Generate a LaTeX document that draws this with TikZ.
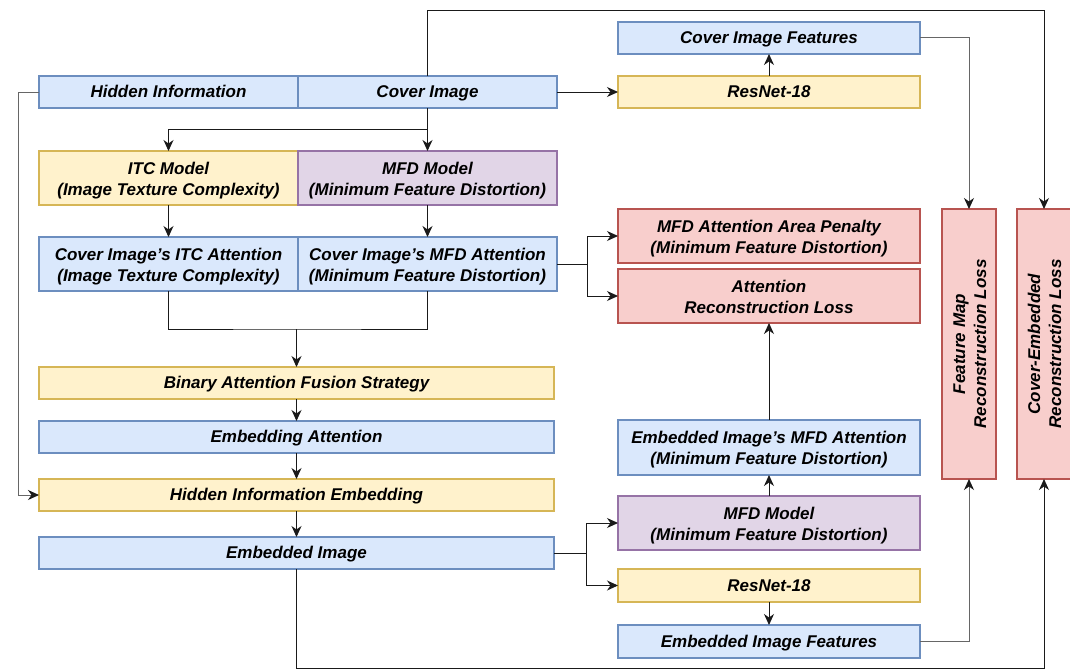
\documentclass[tikz,border=0pt]{standalone}
\usepackage{fontspec}
\setmainfont{Liberation Sans}
\usetikzlibrary{arrows.meta}
\definecolor{bfill}{HTML}{DAE8FC}\definecolor{bdraw}{HTML}{6C8EBF}
\definecolor{yfill}{HTML}{FFF2CC}\definecolor{ydraw}{HTML}{D6B656}
\definecolor{pfill}{HTML}{E1D5E7}\definecolor{pdraw}{HTML}{9673A6}
\definecolor{rfill}{HTML}{F8CECC}\definecolor{rdraw}{HTML}{B85450}
\definecolor{lineblack}{HTML}{1A1A1A}\definecolor{linegray}{HTML}{666666}
\tikzset{
  box/.style={rectangle, line width=1.2pt, inner sep=0pt, outer sep=0pt, align=center,
    font=\fontsize{17pt}{21pt}\selectfont\bfseries\itshape,
    text height=15.5pt, text depth=4pt},
  twoline/.style={text height=38pt, text depth=4pt},
  bluebox/.style={box, fill=bfill, draw=bdraw},
  yellowbox/.style={box, fill=yfill, draw=ydraw},
  purplebox/.style={box, fill=pfill, draw=pdraw},
  redbox/.style={box, fill=rfill, draw=rdraw},
  conn/.style={draw=lineblack, line width=1pt, -{Stealth[length=11pt,width=10pt,inset=3.5pt,color=lineblack]}},
  plain/.style={draw=lineblack, line width=1pt},
  grayconn/.style={conn, draw=linegray},
  vtext/.style={rotate=90, align=center, inner sep=0pt, font=\fontsize{17pt}{21pt}\selectfont\bfseries\itshape,
    twoline},
}
\begin{document}
\begin{tikzpicture}[x=1pt,y=-1pt]
\useasboundingbox (0,0) rectangle (1070,669);
% left column
\node[bluebox, minimum width=259pt, minimum height=32pt] (hid) at (168.5,92) {Hidden Information};
\node[bluebox, minimum width=259pt, minimum height=32pt] (cov) at (427.5,92) {Cover Image};
\node[yellowbox, twoline, minimum width=259pt, minimum height=54pt] (itc) at (168.5,178) {ITC Model\\(Image Texture Complexity)};
\node[purplebox, twoline, minimum width=259pt, minimum height=54pt] (mfd) at (427.5,178) {MFD Model\\(Minimum Feature Distortion)};
\node[bluebox, twoline, minimum width=259pt, minimum height=54pt] (itca) at (168.5,264) {Cover Image's ITC Attention\\(Image Texture Complexity)};
\node[bluebox, twoline, minimum width=259pt, minimum height=54pt] (mfda) at (427.5,264) {Cover Image's MFD Attention\\(Minimum Feature Distortion)};
\node[yellowbox, minimum width=515pt, minimum height=32pt] (bafs) at (296.5,383) {Binary Attention Fusion Strategy};
\node[bluebox, minimum width=515pt, minimum height=32pt] (ea) at (296.5,437) {Embedding Attention};
\node[yellowbox, minimum width=515pt, minimum height=32pt] (hie) at (296.5,495) {Hidden Information Embedding};
\node[bluebox, minimum width=515pt, minimum height=32pt] (ei) at (296.5,553) {Embedded Image};
% middle column
\node[bluebox, minimum width=302pt, minimum height=32pt] (cif) at (769,38) {Cover Image Features};
\node[yellowbox, minimum width=302pt, minimum height=32pt] (res1) at (769,92) {ResNet-18};
\node[redbox, twoline, minimum width=302pt, minimum height=54pt] (pen) at (769,236) {MFD Attention Area Penalty\\(Minimum Feature Distortion)};
\node[redbox, twoline, minimum width=302pt, minimum height=54pt] (arl) at (769,296) {Attention\\Reconstruction Loss};
\node[bluebox, twoline, minimum width=302pt, minimum height=55pt] (emfda) at (769,447.5) {Embedded Image's MFD Attention\\(Minimum Feature Distortion)};
\node[purplebox, twoline, minimum width=302pt, minimum height=54pt] (mfd2) at (769,523) {MFD Model\\(Minimum Feature Distortion)};
\node[yellowbox, minimum width=302pt, minimum height=33pt] (res2) at (769,585.5) {ResNet-18};
\node[bluebox, minimum width=302pt, minimum height=33pt] (eif) at (769,641.5) {Embedded Image Features};
% right column
\node[redbox, minimum width=54pt, minimum height=270pt,
  label={[vtext]center:{Feature Map\\Reconstruction Loss}}] (fm) at (969,344) {};
\node[redbox, minimum width=54pt, minimum height=270pt,
  label={[vtext]center:{Cover-Embedded\\Reconstruction Loss}}] (ce) at (1044,344) {};
% coordinates
\coordinate (hidL) at (18,92);
\coordinate (split1) at (427.5,129);
\coordinate (merge) at (296.5,329);
\coordinate (topR) at (1044,11);
\coordinate (botL) at (296.5,668);
\coordinate (fork1) at (587,264);
\coordinate (fork2) at (586,553);
% connectors
\draw[grayconn] (hid.west) -- (hidL) |- (hie.west);
\draw[conn] (cov.east) -- (res1.west);
\draw[conn] (res1.north) -- (cif.south);
\draw[grayconn] (cif.east) -| (fm.north);
\draw[conn] (cov.north) |- (topR) -- (ce.north);
\draw[conn] (cov.south) -- (mfd.north);
\draw[conn] (split1) -| (itc.north);
\draw[conn] (itc.south) -- (itca.north);
\draw[conn] (mfd.south) -- (mfda.north);
\draw[plain] (itca.south) |- (merge) -| (mfda.south);
\draw[conn] (merge) -- (bafs.north);
\draw[conn] (bafs.south) -- (ea.north);
\draw[conn] (ea.south) -- (hie.north);
\draw[conn] (hie.south) -- (ei.north);
\draw[plain] (mfda.east) -- (fork1);
\draw[conn] (fork1) |- (pen.west);
\draw[conn] (fork1) |- (arl.west);
\draw[plain] (ei.east) -- (fork2);
\draw[conn] (fork2) |- (mfd2.west);
\draw[conn] (fork2) |- (res2.west);
\draw[conn] (mfd2.north) -- (emfda.south);
\draw[conn] (emfda.north) -- (arl.south);
\draw[conn] (res2.south) -- (eif.north);
\draw[grayconn] (eif.east) -| (fm.south);
\draw[conn] (ei.south) -- (botL) -| (ce.south);
\end{tikzpicture}
\end{document}
